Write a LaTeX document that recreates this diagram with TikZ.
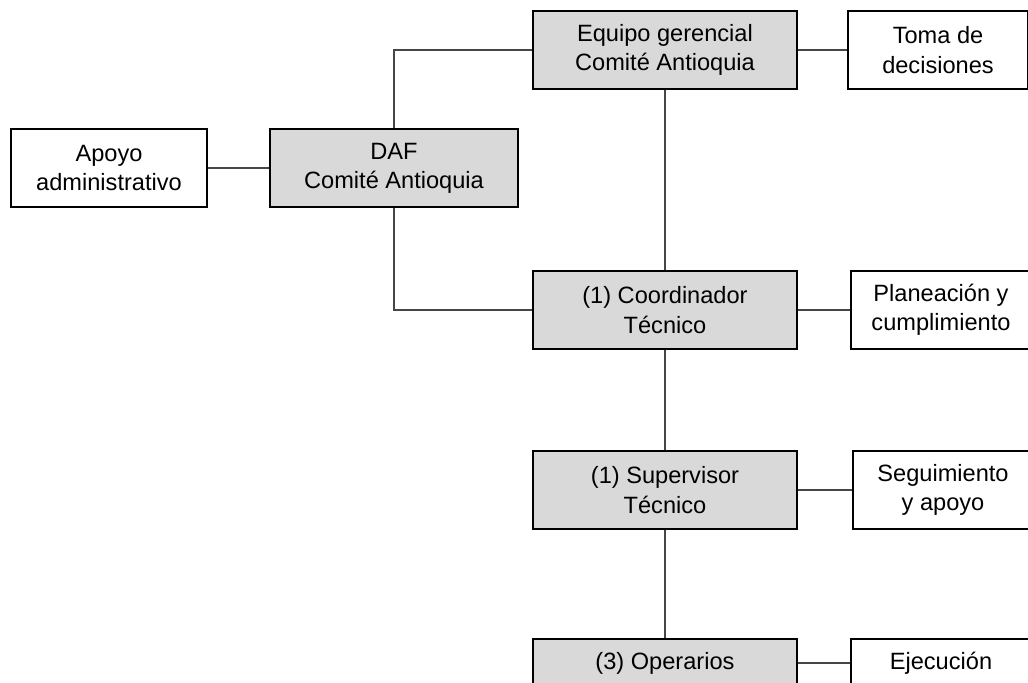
\documentclass[tikz,border=0pt]{standalone}
\usepackage{fontspec}
\setmainfont{Liberation Sans}
\usetikzlibrary{positioning}
\definecolor{boxgray}{RGB}{217,217,217}
\definecolor{linegray}{RGB}{70,70,70}

\begin{document}
\begin{tikzpicture}[x=0.5pt,y=-0.5pt,font=\fontsize{11.8}{14.6}\selectfont]
  \tikzstyle{box}=[draw=black,line width=1pt,align=center,inner sep=0pt,minimum height=39pt]
  \tikzstyle{main}=[box,fill=boxgray,minimum width=132pt]
  \tikzstyle{task}=[box,fill=white,minimum width=90pt]
  \tikzstyle{conn}=[linegray,line width=0.65pt]

  \path [use as bounding box,clip] (0,0) rectangle (1028,682);

  % left blocks
  \node [box,fill=white,minimum width=98pt] (apoyo) at (109,168) {Apoyo\\administrativo};
  \node [box,fill=boxgray,minimum width=124pt] (daf) at (394,168) {DAF\\Comité Antioquia};

  % middle column
  \node [main] (equipo) at (665,50) {Equipo gerencial\\Comité Antioquia};
  \node [main] (coord) at (665,310) {(1) Coordinador\\Técnico};
  \node [main] (superv) at (665,490) {(1) Supervisor\\Técnico};
  \node [main,minimum height=24pt] (oper) at (665,663) {(3) Operarios};

  % right column
  \node [task] (toma) at (938,50) {Toma de\\decisiones};
  \node [task] (plan) at (941,310) {Planeación y\\cumplimiento};
  \node [task] (seg) at (943,490) {Seguimiento\\y apoyo};
  \node [task,minimum height=24pt] (ejec) at (941,663) {Ejecución};

  % lines from the left blocks
  \draw [conn] (apoyo.east) -- (daf.west);
  \draw [conn] (daf.north) |- (equipo.west);
  \draw [conn] (daf.south) |- (coord.west);

  % vertical line in the middle
  \draw [conn] (equipo.south) -- (coord.north);
  \draw [conn] (coord.south) -- (superv.north);
  \draw [conn] (superv.south) -- (oper.north);

  % lines to the right column
  \draw [conn] (equipo.east) -- (toma.west);
  \draw [conn] (coord.east) -- (plan.west);
  \draw [conn] (superv.east) -- (seg.west);
  \draw [conn] (oper.east) -- (ejec.west);

\end{tikzpicture}
\end{document}
